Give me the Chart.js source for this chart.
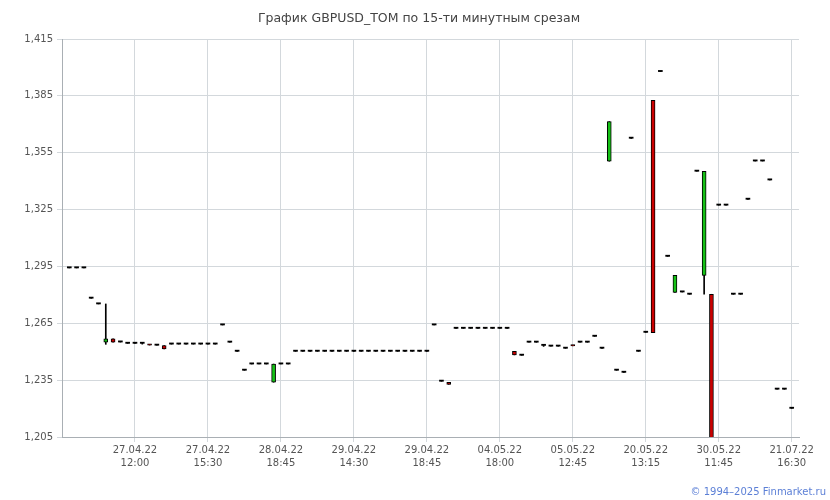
<!DOCTYPE html>
<html>
<head>
<meta charset="utf-8">
<script src="https://cdn.jsdelivr.net/npm/chart.js@4.4.1/dist/chart.umd.min.js"></script>
<style>
  html, body { margin: 0; padding: 0; background: #fff; }
  #wrap { position: relative; width: 830px; height: 500px; }
  #copy {
    position: absolute; right: 4px; bottom: 3px;
    font: 10px 'DejaVu Sans', Verdana, sans-serif; color: #5b7fd6;
  }
</style>
</head>
<body>
<div id="wrap">
  <canvas id="chart" width="830" height="500"></canvas>
  <div id="copy">© 1994–2025 Finmarket.ru</div>
</div>
<script>
// GBPUSD_TOM, 15-minute candles

const TITLE = 'График GBPUSD_TOM по 15-ти минутным срезам';

const open = [
  1.2942, 1.2942, 1.2942, 1.2782, 1.2752, 1.2550, 1.2568, 1.2551, 1.2544, 1.2544,
  1.2544, 1.2539, 1.2534, 1.2532, 1.2540, 1.2540, 1.2540, 1.2540, 1.2540, 1.2540,
  1.2540, 1.2641, 1.2550, 1.2502, 1.2402, 1.2435, 1.2435, 1.2435, 1.2339, 1.2435,
  1.2435, 1.2502, 1.2502, 1.2502, 1.2502, 1.2502, 1.2502, 1.2502, 1.2502, 1.2502,
  1.2502, 1.2502, 1.2502, 1.2502, 1.2502, 1.2502, 1.2502, 1.2502, 1.2502, 1.2502,
  1.2641, 1.2344, 1.2338, 1.2623, 1.2623, 1.2623, 1.2623, 1.2623, 1.2623, 1.2623,
  1.2623, 1.2502, 1.2481, 1.2550, 1.2550, 1.2533, 1.2529, 1.2529, 1.2518, 1.2534,
  1.2550, 1.2550, 1.2581, 1.2518, 1.3505, 1.2402, 1.2391, 1.3626, 1.2502, 1.2602,
  1.3827, 1.3978, 1.3003, 1.2813, 1.2815, 1.2803, 1.3452, 1.2903, 1.2803, 1.3273,
  1.3273, 1.2803, 1.2803, 1.3304, 1.3506, 1.3506, 1.3406, 1.2302, 1.2302, 1.2201
];
const high = [
  1.2942, 1.2942, 1.2942, 1.2782, 1.2752, 1.2752, 1.2568, 1.2551, 1.2544, 1.2544,
  1.2544, 1.2539, 1.2534, 1.2532, 1.2540, 1.2540, 1.2540, 1.2540, 1.2540, 1.2540,
  1.2540, 1.2641, 1.2550, 1.2502, 1.2402, 1.2435, 1.2435, 1.2435, 1.2435, 1.2435,
  1.2435, 1.2502, 1.2502, 1.2502, 1.2502, 1.2502, 1.2502, 1.2502, 1.2502, 1.2502,
  1.2502, 1.2502, 1.2502, 1.2502, 1.2502, 1.2502, 1.2502, 1.2502, 1.2502, 1.2502,
  1.2641, 1.2344, 1.2338, 1.2623, 1.2623, 1.2623, 1.2623, 1.2623, 1.2623, 1.2623,
  1.2623, 1.2502, 1.2481, 1.2550, 1.2550, 1.2533, 1.2529, 1.2529, 1.2518, 1.2534,
  1.2550, 1.2550, 1.2581, 1.2518, 1.3714, 1.2402, 1.2391, 1.3626, 1.2502, 1.2602,
  1.3827, 1.3978, 1.3003, 1.2903, 1.2815, 1.2803, 1.3452, 1.3452, 1.2803, 1.3273,
  1.3273, 1.2803, 1.2803, 1.3304, 1.3506, 1.3506, 1.3406, 1.2302, 1.2302, 1.2201
];
const low = [
  1.2942, 1.2942, 1.2942, 1.2782, 1.2752, 1.2539, 1.2550, 1.2551, 1.2544, 1.2544,
  1.2540, 1.2535, 1.2534, 1.2515, 1.2540, 1.2540, 1.2540, 1.2540, 1.2540, 1.2540,
  1.2540, 1.2641, 1.2550, 1.2502, 1.2402, 1.2435, 1.2435, 1.2435, 1.2339, 1.2435,
  1.2435, 1.2502, 1.2502, 1.2502, 1.2502, 1.2502, 1.2502, 1.2502, 1.2502, 1.2502,
  1.2502, 1.2502, 1.2502, 1.2502, 1.2502, 1.2502, 1.2502, 1.2502, 1.2502, 1.2502,
  1.2641, 1.2344, 1.2328, 1.2623, 1.2623, 1.2623, 1.2623, 1.2623, 1.2623, 1.2623,
  1.2623, 1.2483, 1.2481, 1.2550, 1.2550, 1.2528, 1.2529, 1.2529, 1.2518, 1.2531,
  1.2550, 1.2550, 1.2581, 1.2518, 1.3505, 1.2402, 1.2391, 1.3626, 1.2502, 1.2602,
  1.2600, 1.3978, 1.3003, 1.2813, 1.2815, 1.2803, 1.3452, 1.2803, 1.2040, 1.3273,
  1.3273, 1.2803, 1.2803, 1.3304, 1.3506, 1.3506, 1.3406, 1.2302, 1.2302, 1.2201
];
const close = [
  1.2942, 1.2942, 1.2942, 1.2782, 1.2752, 1.2568, 1.2550, 1.2551, 1.2544, 1.2544,
  1.2544, 1.2535, 1.2534, 1.2515, 1.2540, 1.2540, 1.2540, 1.2540, 1.2540, 1.2540,
  1.2540, 1.2641, 1.2550, 1.2502, 1.2402, 1.2435, 1.2435, 1.2435, 1.2435, 1.2435,
  1.2435, 1.2502, 1.2502, 1.2502, 1.2502, 1.2502, 1.2502, 1.2502, 1.2502, 1.2502,
  1.2502, 1.2502, 1.2502, 1.2502, 1.2502, 1.2502, 1.2502, 1.2502, 1.2502, 1.2502,
  1.2641, 1.2344, 1.2328, 1.2623, 1.2623, 1.2623, 1.2623, 1.2623, 1.2623, 1.2623,
  1.2623, 1.2483, 1.2481, 1.2550, 1.2550, 1.2533, 1.2529, 1.2529, 1.2518, 1.2531,
  1.2550, 1.2550, 1.2581, 1.2518, 1.3714, 1.2402, 1.2391, 1.3626, 1.2502, 1.2602,
  1.2600, 1.3978, 1.3003, 1.2903, 1.2815, 1.2803, 1.3452, 1.3452, 1.2040, 1.3273,
  1.3273, 1.2803, 1.2803, 1.3304, 1.3506, 1.3506, 1.3406, 1.2302, 1.2302, 1.2201
];

// x axis: bar index of each labelled tick, and its two-line label
const tickIdx = [9, 19, 29, 39, 49, 59, 69, 79, 89, 99];
const tickLabels = [
  ['27.04.22', '12:00'], ['27.04.22', '15:30'], ['28.04.22', '18:45'],
  ['29.04.22', '14:30'], ['29.04.22', '18:45'], ['04.05.22', '18:00'],
  ['05.05.22', '12:45'], ['20.05.22', '13:15'], ['30.05.22', '11:45'],
  ['21.07.22', '16:30']
];
const yTicks = [1.205, 1.235, 1.265, 1.295, 1.325, 1.355, 1.385, 1.415];

const UP = '#16c116';
const DOWN = '#cc0000';
const GRID = '#d3d8dc';
const AXIS = '#a9afb4';
const TEXT = '#555';
const FONT = "'DejaVu Sans', Verdana, sans-serif";

const bodies = open.map((o, i) => ({ x: i, y: [Math.min(o, close[i]), Math.max(o, close[i])] }));
const wicks = high.map((h, i) => ({ x: i, y: [low[i], h] }));
const isFlat = i => open[i] === close[i];

// ─── Title ───────────────────────────────────────────────────────────────────
const titlePlugin = {
  id: 'titleText',
  afterDraw(chart) {
    const ctx = chart.ctx;
    ctx.save();
    ctx.font = '12.5px ' + FONT;
    ctx.fillStyle = '#444';
    ctx.textAlign = 'center';
    ctx.textBaseline = 'middle';
    ctx.fillText(TITLE, 419, 19);
    ctx.restore();
  }
};

new Chart(document.getElementById('chart'), {
  type: 'bar',
  data: {
    datasets: [
      {
        label: 'body',
        data: bodies,
        order: 0,
        grouped: false,
        barThickness: 4,
        minBarLength: 1.2,
        borderSkipped: false,
        borderColor: '#000',
        borderWidth: ctx => isFlat(ctx.dataIndex) ? 0 : 1,
        backgroundColor: ctx => {
          const i = ctx.dataIndex;
          if (isFlat(i)) return '#000';
          return close[i] > open[i] ? UP : DOWN;
        },
      },
      {
        label: 'wick',
        data: wicks,
        order: 1,
        grouped: false,
        barThickness: 1,
        borderWidth: 0,
        backgroundColor: '#000',
      },
    ],
  },
  options: {
    responsive: false,
    animation: false,
    events: [],
    layout: { padding: { left: 0, right: 31, top: 39, bottom: 0 } },
    plugins: {
      legend: { display: false },
      tooltip: { enabled: false },
      title: { display: false },
    },
    scales: {
      x: {
        type: 'linear',
        min: -1,
        max: 100,
        offset: false,
        afterFit: s => { s.height = 63; },
        afterBuildTicks: s => { s.ticks = tickIdx.map(v => ({ value: v })); },
        grid: { color: GRID, offset: false, tickLength: 5 },
        border: { color: AXIS },
        ticks: {
          autoSkip: false,
          maxRotation: 0,
          padding: 2,
          color: TEXT,
          font: { family: FONT, size: 10, lineHeight: 1.3 },
          callback: v => tickLabels[tickIdx.indexOf(v)] || '',
        },
      },
      y: {
        min: 1.205,
        max: 1.415,
        afterFit: s => { s.width = 62; },
        afterBuildTicks: s => { s.ticks = yTicks.map(v => ({ value: v })); },
        grid: { color: GRID, tickLength: 5 },
        border: { color: AXIS },
        ticks: {
          padding: 4,
          color: TEXT,
          font: { family: FONT, size: 10 },
          callback: v => v.toFixed(3).replace('.', ','),
        },
      },
    },
  },
  plugins: [titlePlugin],
});
</script>
</body>
</html>
